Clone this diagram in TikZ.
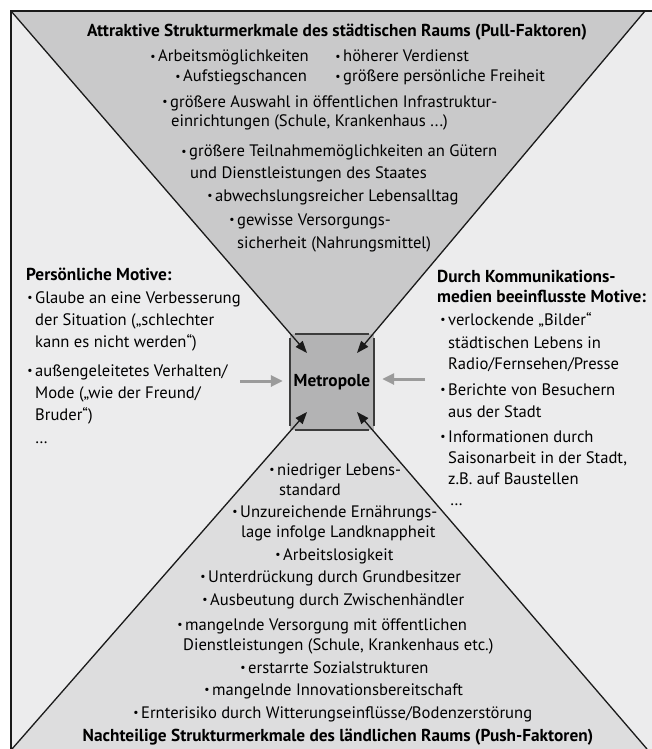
\documentclass[tikz,border=0pt]{standalone}
\usepackage{fontspec}
\usepackage{graphicx}
\setmainfont{PT Sans}
\usetikzlibrary{arrows.meta}
\definecolor{frameFill}{RGB}{236,236,237}
\definecolor{topFill}{RGB}{201,201,202}
\definecolor{botFill}{RGB}{221,221,222}
\definecolor{boxFill}{RGB}{179,179,180}
\definecolor{grayArrow}{RGB}{155,155,155}
\definecolor{inkLine}{RGB}{26,26,26}
\newcommand\bul{\leavevmode\llap{\raisebox{1.8pt}{\scalebox{0.7}{•}}\hspace{2.5pt}}}
\newcommand\fsz{\fontsize{16.6}{20}\selectfont}
\newcommand\fszb{\fontsize{17.3}{20}\selectfont\bfseries}
\begin{document}
\begin{tikzpicture}[x=1pt,y=-1pt,
  txt/.style={anchor=base west,inner sep=0pt,font=\fsz},
  bold/.style={anchor=base west,inner sep=0pt,font=\fszb},
  btitle/.style={anchor=base,inner sep=0pt,font=\fszb},
  diag/.style={draw=inkLine,line width=1.3pt,-{Triangle[length=12pt,width=9pt]}},
  sidearrow/.style={draw=grayArrow,line width=3pt,-{Triangle[length=12pt,width=11pt]}},
  boxline/.style={draw=inkLine!85,line width=1.8pt},
  metrobox/.style={fill=boxFill,minimum width=84pt,minimum height=96pt,inner sep=0pt,font=\fszb}]
\useasboundingbox (0,0) rectangle (652,749);
\clip (0,0) rectangle (652,749);
\fill[white] (0,0) rectangle (652,749);
% frame
\fill[frameFill] (11,11) rectangle (660,760);
\coordinate (tl) at (11,11);
\coordinate (tr) at (645,11);
\coordinate (bl) at (12,749);
\coordinate (br) at (647,749);
\coordinate (mc) at (332,382);
\fill[topFill] (tl) -- (tr) -- (mc) -- cycle;
\fill[botFill] (bl) -- (br) -- (mc) -- cycle;
\draw[inkLine,line width=1.8pt] (11,760) -- (11,11) -- (660,11);
% box
\node[metrobox] (metro) at (mc) {Metropole};
\draw[boxline] ([xshift=5pt]metro.north west) -- ([xshift=-5pt]metro.north east);
\draw[boxline] ([xshift=5pt]metro.south west) -- ([xshift=-5pt]metro.south east);
\draw[boxline] ([yshift=-4pt]metro.north west) -- ([yshift=4pt]metro.south west);
\draw[boxline] ([yshift=-4pt]metro.north east) -- ([yshift=4pt]metro.south east);
\coordinate (tipTL) at ([xshift=-25pt,yshift=29pt]metro.center);
\coordinate (tipTR) at ([xshift=25pt,yshift=29pt]metro.center);
\coordinate (tipBL) at ([xshift=-25pt,yshift=-30pt]metro.center);
\coordinate (tipBR) at ([xshift=25pt,yshift=-30pt]metro.center);
\draw[diag] (tl) -- (tipTL);
\draw[diag] (tr) -- (tipTR);
\draw[diag] (bl) -- (tipBL);
\draw[diag] (br) -- (tipBR);
\coordinate (la) at (240,381);
\coordinate (ra) at (425,379);
\draw[sidearrow] (la) -- ([xshift=-7pt]metro.west |- la);
\draw[sidearrow] (ra) -- ([xshift=8pt]metro.east |- ra);
% top block
\node[btitle] (ttop) at (337,37) {Attraktive Strukturmerkmale des städtischen Raums (Pull-Faktoren)};
\node[txt] (a1) at (158,62) {\bul Arbeitsmöglichkeiten};
\node[txt] (a2) at (343,62) {\bul höherer Verdienst};
\node[txt] (a3) at (183,82) {\bul Aufstiegschancen};
\node[txt] (a4) at (343,82) {\bul größere persönliche Freiheit};
\node[txt] (a5) at (170,107) {\bul größere Auswahl in öffentlichen Infrastruktur-};
\node[txt] (a6) at (171,127) {einrichtungen (Schule, Krankenhaus ...)};
\node[txt] (a7) at (189,157) {\bul größere Teilnahmemöglichkeiten an Gütern};
\node[txt] (a8) at (190,178) {und Dienstleistungen des Staates};
\node[txt] (a9) at (215,201) {\bul abwechslungsreicher Lebensalltag};
\node[txt] (a10) at (237,225) {\bul gewisse Versorgungs-};
\node[txt] (a11) at (237,248) {sicherheit (Nahrungsmittel)};
% left block
\node[bold] (l0) at (26,280) {Persönliche Motive:};
\node[txt] (l1) at (35,303) {\bul Glaube an eine Verbesserung};
\node[txt] (l2) at (35,325) {der Situation („schlechter};
\node[txt] (l3) at (35,347) {kann es nicht werden“)};
\node[txt] (l4) at (35,376) {\bul außengeleitetes Verhalten/};
\node[txt] (l5) at (35,398) {Mode („wie der Freund/};
\node[txt] (l6) at (35,420) {Bruder“)};
\node[txt] (l7) at (35,443) {…};
% right block
\node[bold] (r0) at (437,282) {Durch Kommunikations-};
\node[bold] (r1) at (437,302) {medien beeinflusste Motive:};
\node[txt] (r2) at (448,325) {\bul verlockende „Bilder“};
\node[txt] (r3) at (448,348) {städtischen Lebens in};
\node[txt] (r4) at (448,369) {Radio/Fernsehen/Presse};
\node[txt] (r5) at (448,395) {\bul Berichte von Besuchern};
\node[txt] (r6) at (448,417) {aus der Stadt};
\node[txt] (r7) at (448,442) {\bul Informationen durch};
\node[txt] (r8) at (448,463) {Saisonarbeit in der Stadt,};
\node[txt] (r9) at (448,484) {z.B. auf Baustellen};
\node[txt] (r10) at (450,505) {…};
% bottom block
\node[txt] (b1) at (277,475) {\bul niedriger Lebens-};
\node[txt] (b2) at (279,495) {standard};
\node[txt] (b3) at (240,517) {\bul Unzureichende Ernährungs-};
\node[txt] (b4) at (241,537) {lage infolge Landknappheit};
\node[txt] (b5) at (283,560) {\bul Arbeitslosigkeit};
\node[txt] (b6) at (208,582) {\bul Unterdrückung durch Grundbesitzer};
\node[txt] (b7) at (210,605) {\bul Ausbeutung durch Zwischenhändler};
\node[txt] (b8) at (185,630) {\bul mangelnde Versorgung mit öffentlichen};
\node[txt] (b9) at (183,650) {Dienstleistungen (Schule, Krankenhaus etc.)};
\node[txt] (b10) at (248,673) {\bul erstarrte Sozialstrukturen};
\node[txt] (b11) at (212,695) {\bul mangelnde Innovationsbereitschaft};
\node[txt] (b12) at (141,718) {\bul Ernterisiko durch Witterungseinflüsse/Bodenzerstörung};
\node[btitle] (tbot) at (338,741) {Nachteilige Strukturmerkmale des ländlichen Raums (Push-Faktoren)};
\end{tikzpicture}
\end{document}
